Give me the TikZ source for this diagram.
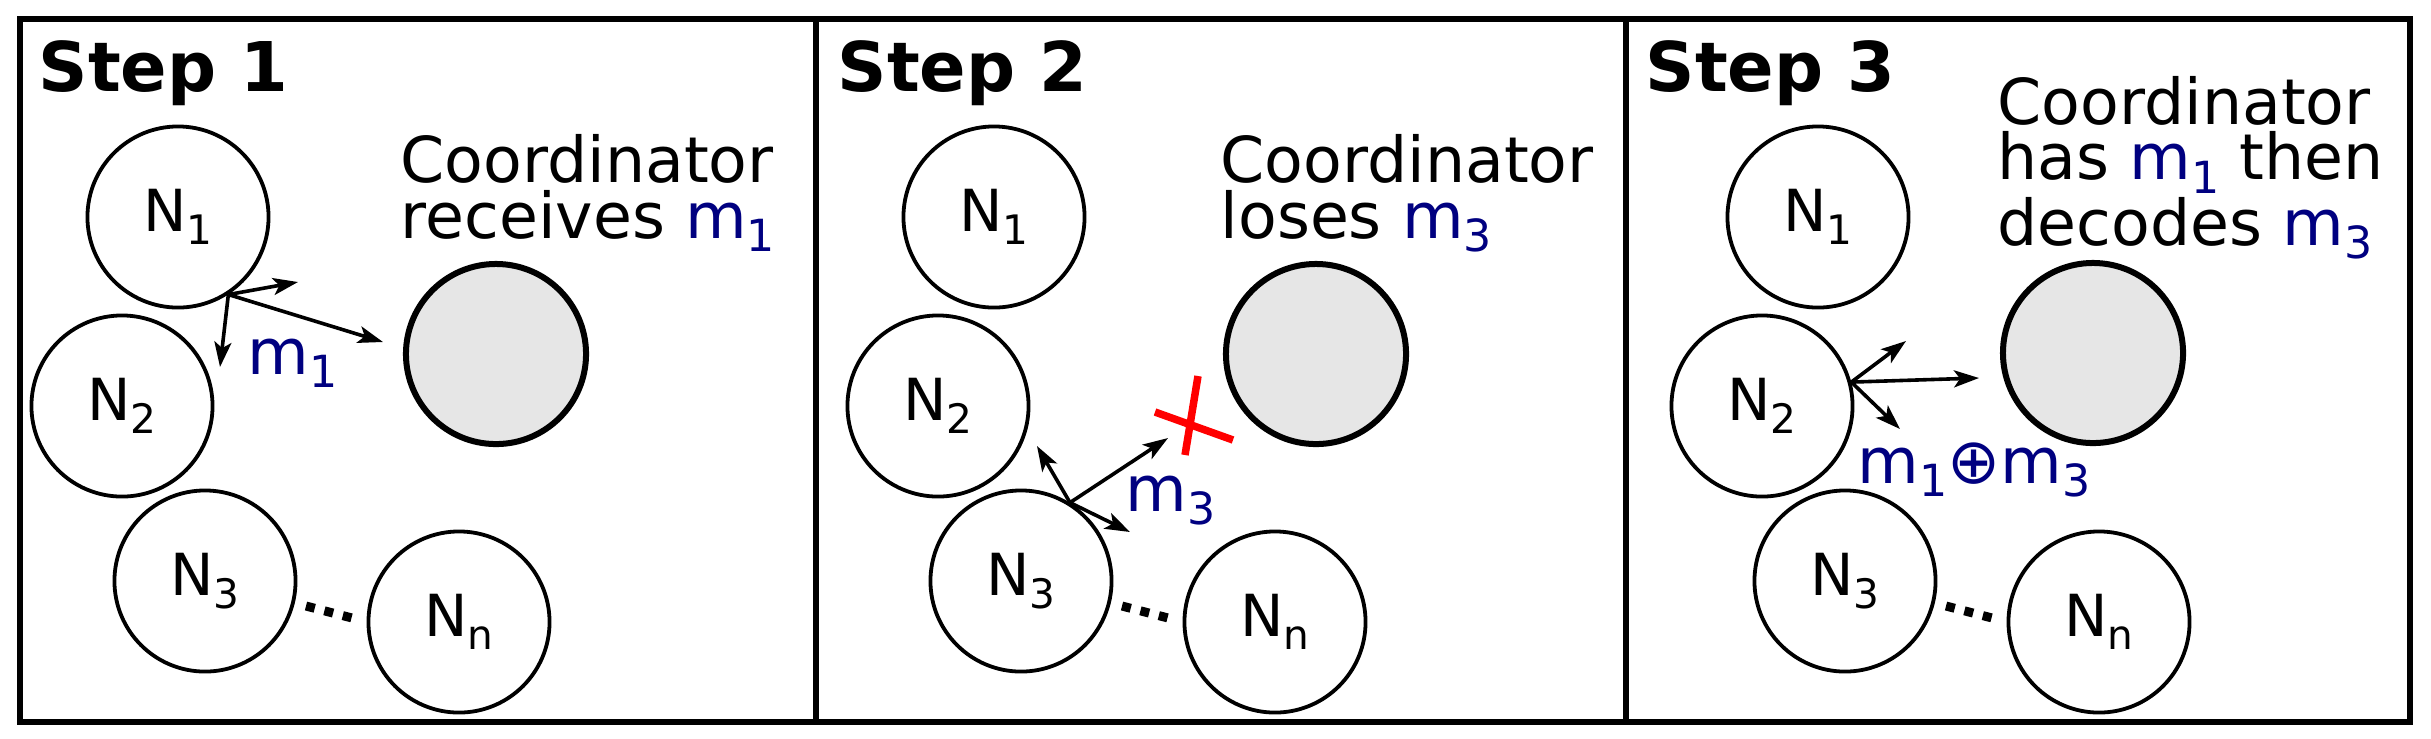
\documentclass[tikz,border=0pt]{standalone}
\usepackage{fontspec}
\setmainfont{DejaVu Sans}
\usepackage{tikz}
\usetikzlibrary{positioning}
\usetikzlibrary{arrows.meta}
\usetikzlibrary{calc}

\definecolor{msgblue}{RGB}{0,0,128}
\definecolor{hubgray}{RGB}{230,230,230}
\newcommand\lsub[1]{\raisebox{-0.22em}{\scalebox{0.7}{#1}}}
\newcommand\msg[1]{{\color{msgblue}m\lsub{#1}}}

\begin{document}
\begin{tikzpicture}[x=0.01cm, y=-0.01cm,
    peer/.style={circle, draw, line width=0.038cm, minimum size=1.81cm, inner sep=0, font=\fontsize{16.5}{18}\selectfont},
    hub/.style={circle, draw, line width=0.06cm, fill=hubgray, minimum size=1.80cm, inner sep=0},
    note/.style={anchor=base west, inner sep=0, font=\fontsize{18}{21}\selectfont},
    story/.style={anchor=base west, inner sep=0, align=left, font={\fontsize{18}{15.65}\selectfont\lineskiplimit=-20pt}},
    steplabel/.style={anchor=base west, inner sep=0, font=\fontsize{19.5}{22}\selectfont\bfseries},
    send/.style={-{Stealth[length=0.25cm,width=0.17cm,inset=0.06cm]}, line width=0.036cm},
    etc/.style={line width=0.09cm, dash pattern=on 0.09cm off 0.1cm},
    lost/.style={red, line width=0.075cm}]
    \useasboundingbox (0,0) rectangle (2431,738);
    % frame %
    \draw[line width=0.055cm] (20,19) rectangle (2410,722);
    \draw[line width=0.055cm] (816,19) -- (816,722);
    \draw[line width=0.055cm] (1626,19) -- (1626,722);
    % nodes %
    \foreach \p/\dx in {1/0, 2/816, 3/1640} {
        \node[peer] (n1-\p) at (178+\dx,217) {N\lsub{1}};
        \node[peer] (n2-\p) at (122+\dx,406) {N\lsub{2}};
        \node[peer] (n3-\p) at (205+\dx,581) {N\lsub{3}};
        \node[peer] (nn-\p) at (459+\dx,622) {N\lsub{n}};
        \draw[etc] ($(n3-\p)+(101,25)$) -- ++(48,12.5);
    }
    \node[hub] (hub1) at (496,354) {};
    \node[hub] (hub2) at (1316,354) {};
    \node[hub] (hub3) at (2093,353) {};
    % texts %
    \node[steplabel] (st1) at (38,91) {Step 1};
    \node[steplabel] (st2) at (837,91) {Step 2};
    \node[steplabel] (st3) at (1645,91) {Step 3};
    \node[story] (c1) at (400,238) {Coordinator\\receives \msg{1}};
    \node[story] (c2) at (1220,238) {Coordinator\\loses \msg{3}};
    \node[story] (c3) at (1997,245) {Coordinator\\has \msg{1} then\\[3.1pt]decodes \msg{3}};
    \node[note] (m1) at (247,374) {\msg{1}};
    \node[note] (m2) at (1125,511) {\msg{3}};
    \node[note] (m3) at (1857,483) {{\color{msgblue}m\lsub{1}⊕m\lsub{3}}};
    % edges %
    \coordinate (t1a) at (298,282);
    \coordinate (t1b) at (383,342);
    \coordinate (t1c) at (220,367);
    \draw[send] (n1-1.-57) -- (t1a);
    \draw[send] (n1-1.-57) -- (t1b);
    \draw[send] (n1-1.-57) -- (t1c);
    \coordinate (t2a) at (1037,446);
    \coordinate (t2b) at (1168,438);
    \coordinate (t2c) at (1130,532);
    \draw[send] (n3-2.58) -- (t2a);
    \draw[send] (n3-2.58) -- (t2b);
    \draw[send] (n3-2.58) -- (t2c);
    \draw[lost] (1198,376) -- (1185,455) (1155,412) -- (1233,440);
    \coordinate (t3a) at (1906,341);
    \coordinate (t3b) at (1979,378);
    \coordinate (t3c) at (1900,429);
    \draw[send] (n2-3.15) -- (t3a);
    \draw[send] (n2-3.15) -- (t3b);
    \draw[send] (n2-3.15) -- (t3c);
\end{tikzpicture}
\end{document}
